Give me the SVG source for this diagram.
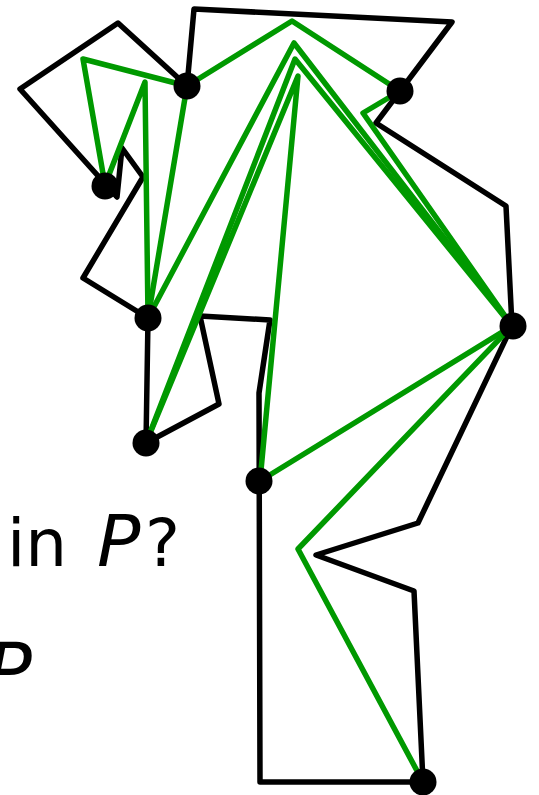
<svg xmlns="http://www.w3.org/2000/svg" width="539" height="795" viewBox="0 0 539 795">
<style>
.poly{fill:none;stroke:#000;stroke-width:5.5;stroke-linejoin:round;stroke-linecap:round}
.g{fill:none;stroke:#009900;stroke-width:5.5;stroke-linejoin:round;stroke-linecap:round}
.dot{fill:#000}
.t{font-family:"DejaVu Sans",sans-serif;fill:#000}
.it{font-style:italic}
</style>
<rect width="539" height="795" fill="#fff"/>
<g id="polygon">
<polygon class="poly" points="20,89 117,197 122,148 143,177 83,278 148,318 146,443 219,404 200,316 270,320 259,393 260,782 423,782 414,591 316,555 418,523 512,326 506,206 376,123 452,22 194,9 187,86 118,23"/>
</g>
<g id="connectors">
<polyline class="g" points="187,86 292,21 400,91"/>
<polyline class="g" points="400,91 363,113 512,326"/>
<polyline class="g" points="148,318 294,43 512,326"/>
<polyline class="g" points="146,443 295,59 512,326"/>
<polyline class="g" points="146,443 298,76 260,481"/>
<polyline class="g" points="105,185 83,59 187,86"/>
<polyline class="g" points="105,185 145,82 148,318"/>
<polyline class="g" points="187,86 148,318"/>
<polyline class="g" points="260,481 512,326"/>
<polyline class="g" points="512,326 298,549 423,782"/>
</g>
<g id="n1"><circle class="dot" cx="187" cy="86" r="13.5"/></g>
<g id="n2"><circle class="dot" cx="400" cy="91" r="13.5"/></g>
<g id="n3"><circle class="dot" cx="105" cy="186" r="13.5"/></g>
<g id="n4"><circle class="dot" cx="148" cy="318" r="13.5"/></g>
<g id="n5"><circle class="dot" cx="146" cy="443" r="13.5"/></g>
<g id="n6"><circle class="dot" cx="513" cy="326" r="13.5"/></g>
<g id="n7"><circle class="dot" cx="259" cy="481" r="13.5"/></g>
<g id="n8"><circle class="dot" cx="423" cy="782" r="13.5"/></g>
<g id="labels">
<text class="t" x="7" y="566" font-size="66">in</text>
<text class="t it" x="97" y="566" font-size="72">P</text>
<text class="t" x="145" y="566" font-size="66">?</text>
<text class="t it" x="-14" y="698" font-size="76">P</text>
</g>
</svg>
